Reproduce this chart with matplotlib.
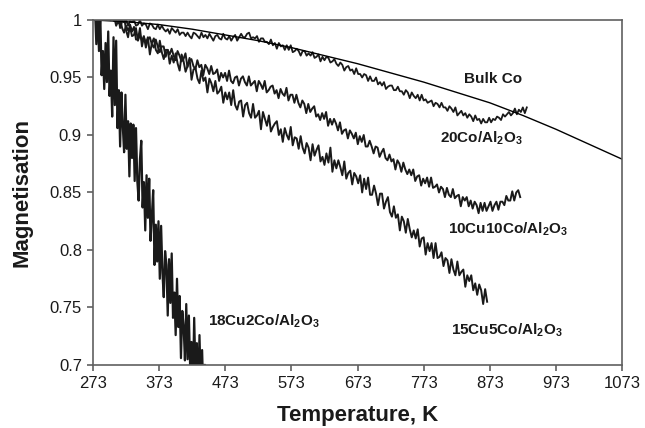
import numpy as np
import matplotlib
matplotlib.use("Agg")
import matplotlib.pyplot as plt

plt.rcParams['font.family'] = ['Liberation Sans', 'DejaVu Sans']
plt.rcParams['mathtext.default'] = 'regular'

# ---- data ----
bulk_T = [273, 323, 373, 423, 473, 523, 573, 623, 673, 723, 773, 823, 873, 923, 973, 1023, 1073]
bulk_M = [1.000, 0.9985, 0.996, 0.992, 0.987, 0.982, 0.976, 0.969, 0.962, 0.954, 0.946, 0.937,
          0.928, 0.917, 0.905, 0.892, 0.879]

# measured curves: first / last temperature, evenly sampled readings
co20_T_range = (299, 929)
co20_M = [
    1.000, 1.002, 0.999, 1.000, 0.997, 1.002, 0.999, 0.998, 1.000, 0.995, 0.999, 0.998, 1.000, 0.995,
    0.996, 1.000, 0.995, 0.997, 0.996, 0.992, 0.997, 0.996, 0.993, 0.992, 0.996, 0.992, 0.995, 0.992,
    0.990, 0.992, 0.988, 0.993, 0.991, 0.989, 0.992, 0.987, 0.989, 0.989, 0.986, 0.989, 0.986, 0.984,
    0.989, 0.988, 0.986, 0.984, 0.989, 0.985, 0.987, 0.984, 0.988, 0.985, 0.982, 0.986, 0.987, 0.984,
    0.983, 0.988, 0.984, 0.983, 0.986, 0.982, 0.985, 0.987, 0.982, 0.985, 0.988, 0.985, 0.985, 0.988,
    0.989, 0.984, 0.985, 0.984, 0.986, 0.981, 0.984, 0.984, 0.981, 0.981, 0.979, 0.983, 0.978, 0.980,
    0.975, 0.980, 0.977, 0.978, 0.974, 0.978, 0.974, 0.978, 0.972, 0.973, 0.975, 0.973, 0.969, 0.973,
    0.973, 0.969, 0.971, 0.969, 0.972, 0.967, 0.968, 0.970, 0.964, 0.968, 0.965, 0.968, 0.967, 0.963,
    0.964, 0.966, 0.962, 0.960, 0.963, 0.961, 0.956, 0.959, 0.960, 0.956, 0.957, 0.953, 0.958, 0.953,
    0.953, 0.950, 0.953, 0.952, 0.947, 0.951, 0.947, 0.947, 0.950, 0.944, 0.946, 0.943, 0.946, 0.940,
    0.942, 0.943, 0.943, 0.939, 0.939, 0.942, 0.938, 0.938, 0.935, 0.939, 0.937, 0.932, 0.937, 0.934,
    0.932, 0.935, 0.930, 0.935, 0.930, 0.931, 0.928, 0.929, 0.930, 0.925, 0.928, 0.927, 0.924, 0.928,
    0.924, 0.924, 0.921, 0.925, 0.923, 0.920, 0.924, 0.917, 0.919, 0.921, 0.917, 0.919, 0.915, 0.918,
    0.916, 0.912, 0.917, 0.913, 0.914, 0.910, 0.914, 0.911, 0.911, 0.915, 0.911, 0.914, 0.913, 0.916,
    0.915, 0.913, 0.918, 0.916, 0.918, 0.920, 0.917, 0.919, 0.923, 0.918, 0.922, 0.920, 0.924, 0.919,
    0.924]

cu10_T_range = (305, 919)
cu10_M = [
    1.003, 0.995, 0.999, 1.001, 0.993, 0.989, 0.995, 0.991, 0.994, 0.986, 0.987, 0.993, 0.982, 0.987,
    0.982, 0.986, 0.976, 0.983, 0.985, 0.979, 0.976, 0.983, 0.977, 0.972, 0.977, 0.977, 0.968, 0.974,
    0.970, 0.975, 0.969, 0.965, 0.973, 0.969, 0.964, 0.966, 0.971, 0.959, 0.965, 0.966, 0.960, 0.957,
    0.965, 0.959, 0.961, 0.952, 0.961, 0.958, 0.953, 0.960, 0.953, 0.954, 0.957, 0.947, 0.954, 0.950,
    0.954, 0.947, 0.956, 0.947, 0.945, 0.950, 0.951, 0.943, 0.949, 0.951, 0.946, 0.943, 0.951, 0.943,
    0.945, 0.947, 0.938, 0.947, 0.944, 0.940, 0.947, 0.937, 0.939, 0.942, 0.943, 0.936, 0.939, 0.932,
    0.940, 0.936, 0.934, 0.941, 0.930, 0.935, 0.935, 0.928, 0.935, 0.928, 0.924, 0.930, 0.927, 0.919,
    0.927, 0.920, 0.923, 0.925, 0.916, 0.918, 0.913, 0.919, 0.914, 0.920, 0.908, 0.914, 0.909, 0.914,
    0.910, 0.904, 0.911, 0.901, 0.904, 0.905, 0.897, 0.904, 0.901, 0.897, 0.902, 0.892, 0.899, 0.894,
    0.900, 0.890, 0.890, 0.895, 0.890, 0.884, 0.890, 0.889, 0.881, 0.885, 0.888, 0.880, 0.878, 0.883,
    0.877, 0.879, 0.870, 0.878, 0.875, 0.868, 0.876, 0.870, 0.866, 0.870, 0.865, 0.870, 0.860, 0.864,
    0.865, 0.856, 0.862, 0.858, 0.863, 0.855, 0.863, 0.854, 0.855, 0.857, 0.850, 0.855, 0.853, 0.846,
    0.854, 0.848, 0.846, 0.853, 0.845, 0.847, 0.848, 0.838, 0.846, 0.843, 0.846, 0.838, 0.843, 0.836,
    0.842, 0.839, 0.832, 0.841, 0.834, 0.841, 0.834, 0.838, 0.842, 0.834, 0.839, 0.842, 0.835, 0.842,
    0.842, 0.839, 0.847, 0.843, 0.843, 0.851, 0.843, 0.850, 0.852, 0.846]

cu15_T_range = (311, 869)
cu15_M = [
    1.004, 0.993, 0.999, 1.003, 0.991, 0.985, 0.996, 0.990, 0.994, 0.983, 0.983, 0.993, 0.977, 0.985,
    0.980, 0.985, 0.970, 0.980, 0.984, 0.974, 0.971, 0.982, 0.972, 0.966, 0.974, 0.974, 0.962, 0.969,
    0.963, 0.971, 0.962, 0.956, 0.970, 0.964, 0.955, 0.960, 0.967, 0.948, 0.957, 0.958, 0.949, 0.945,
    0.956, 0.947, 0.950, 0.937, 0.949, 0.945, 0.938, 0.947, 0.936, 0.938, 0.942, 0.928, 0.937, 0.931,
    0.937, 0.926, 0.939, 0.926, 0.922, 0.929, 0.930, 0.916, 0.926, 0.928, 0.919, 0.915, 0.927, 0.915,
    0.917, 0.921, 0.905, 0.920, 0.914, 0.908, 0.917, 0.903, 0.907, 0.910, 0.912, 0.900, 0.905, 0.894,
    0.906, 0.900, 0.896, 0.907, 0.891, 0.898, 0.897, 0.888, 0.899, 0.889, 0.884, 0.893, 0.889, 0.878,
    0.892, 0.882, 0.887, 0.891, 0.877, 0.881, 0.874, 0.884, 0.876, 0.889, 0.868, 0.878, 0.871, 0.878,
    0.872, 0.865, 0.877, 0.862, 0.867, 0.869, 0.857, 0.867, 0.864, 0.858, 0.865, 0.850, 0.862, 0.853,
    0.863, 0.848, 0.848, 0.856, 0.849, 0.839, 0.849, 0.849, 0.836, 0.842, 0.846, 0.833, 0.829, 0.838,
    0.828, 0.831, 0.817, 0.829, 0.825, 0.815, 0.827, 0.818, 0.811, 0.817, 0.810, 0.818, 0.803, 0.810,
    0.811, 0.796, 0.806, 0.799, 0.806, 0.793, 0.806, 0.793, 0.794, 0.798, 0.786, 0.793, 0.791, 0.780,
    0.792, 0.783, 0.778, 0.790, 0.778, 0.781, 0.783, 0.768, 0.778, 0.773, 0.778, 0.765, 0.771, 0.761,
    0.770, 0.765, 0.753, 0.766, 0.755]

cu18_T_range = (276, 442)
cu18_M = [
    1.010, 0.979, 1.010, 0.973, 1.005, 0.952, 0.973, 0.940, 0.980, 0.946, 0.990, 0.934, 0.956, 0.916,
    0.985, 0.926, 0.982, 0.906, 0.939, 0.890, 0.937, 0.908, 0.885, 0.935, 0.888, 0.912, 0.864, 0.910,
    0.880, 0.909, 0.860, 0.906, 0.860, 0.843, 0.879, 0.895, 0.837, 0.859, 0.817, 0.865, 0.828, 0.862,
    0.808, 0.830, 0.852, 0.787, 0.822, 0.790, 0.825, 0.775, 0.821, 0.780, 0.759, 0.799, 0.787, 0.743,
    0.792, 0.754, 0.797, 0.741, 0.763, 0.726, 0.775, 0.733, 0.760, 0.706, 0.747, 0.734, 0.704, 0.753,
    0.705, 0.743, 0.695, 0.720, 0.681, 0.741, 0.692, 0.719, 0.673, 0.726, 0.683, 0.713, 0.670, 0.700]

x_ticks = [273, 373, 473, 573, 673, 773, 873, 973, 1073]
y_ticks = [0.7, 0.75, 0.8, 0.85, 0.9, 0.95, 1.0]
y_tick_labels = ['0.7', '0.75', '0.8', '0.85', '0.9', '0.95', '1']

labels = {
    'Bulk Co': (878, 0.9487),
    r'20Co/Al$_2$O$_3$': (860, 0.897),
    r'10Cu10Co/Al$_2$O$_3$': (901, 0.818),
    r'15Cu5Co/Al$_2$O$_3$': (899, 0.730),
    r'18Cu2Co/Al$_2$O$_3$': (532, 0.738),
}

# ---- figure ----
fig = plt.figure(figsize=(6.45, 4.28), dpi=100)
ax = fig.add_axes([0.1442, 0.1472, 0.8202, 0.8061])

line_col = '#1a1a1a'
for (t0, t1), vals, lw in [(co20_T_range, co20_M, 1.3), (cu10_T_range, cu10_M, 1.4),
                           (cu15_T_range, cu15_M, 1.4), (cu18_T_range, cu18_M, 1.6)]:
    T = np.linspace(t0, t1, len(vals))
    ax.plot(T, vals, color=line_col, lw=lw)

ax.plot(bulk_T, bulk_M, color='black', lw=1.0)

ax.set_xlim(273, 1073)
ax.set_ylim(0.7, 1.0)
ax.set_xticks(x_ticks)
ax.set_yticks(y_ticks)
ax.set_yticklabels(y_tick_labels)

spine_col = '#606060'
for s in ax.spines.values():
    s.set_color(spine_col)
    s.set_linewidth(1.2)
ax.tick_params(direction='out', length=4, width=1.2, color=spine_col,
               labelsize=12, labelcolor='#1a1a1a', pad=4)

ax.set_xlabel('Temperature, K', fontsize=16, fontweight='bold', labelpad=10, color='#1a1a1a')
ax.set_ylabel('Magnetisation', fontsize=16, fontweight='bold', labelpad=12, color='#1a1a1a')

for txt, (tx, ty) in labels.items():
    ax.text(tx, ty, txt, fontsize=11, fontweight='bold', ha='center', va='center', color='#1a1a1a')

fig.savefig('out.png', dpi=100)
